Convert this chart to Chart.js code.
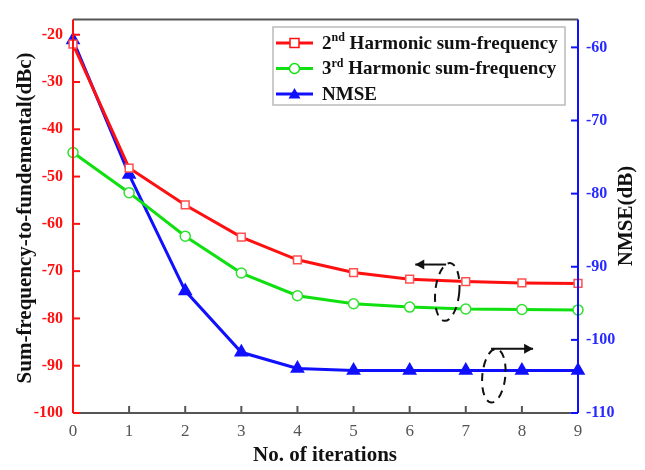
<!DOCTYPE html>
<html>
<head>
<meta charset="utf-8">
<script src="https://cdn.jsdelivr.net/npm/chart.js@4.4.1/dist/chart.umd.min.js"></script>
<style>
    html, body { margin: 0; padding: 0; background: #fff; }
    #wrap { width: 645px; height: 470px; }
</style>
</head>
<body>
<div id="wrap"><canvas id="chart" width="645" height="470"></canvas></div>
<script>
// Data
const iterations = ['0', '1', '2', '3', '4', '5', '6', '7', '8', '9'];
const harmonic2nd = [-22.0, -48.2, -56.0, -62.8, -67.6, -70.3, -71.7, -72.2, -72.5, -72.6];
const harmonic3rd = [-44.9, -53.4, -62.6, -70.4, -75.2, -76.9, -77.6, -78.0, -78.1, -78.2];
const nmseValues = [-59.0, -77.4, -93.3, -101.7, -103.9, -104.2, -104.2, -104.2, -104.2, -104.2];

const leftTickValues = [-100, -90, -80, -70, -60, -50, -40, -30, -20];
const rightTickValues = [-110, -100, -90, -80, -70, -60];

const legendItems = [
    { base: '2', sup: 'nd', rest: ' Harmonic sum-frequency', color: '#ff1010', marker: 'rect' },
    { base: '3', sup: 'rd', rest: ' Harmonic sum-frequency', color: '#10e010', marker: 'circle' },
    { base: 'NMSE', sup: '', rest: '', color: '#1010ff', marker: 'triangle' }
];

const serif = '"Liberation Serif", "Times New Roman", serif';
const RED = '#ff1010';
const GREEN = '#10e010';
const BLUE = '#1010ff';
const FRAME = '#555555';

// Frame, inward ticks and axis titles
const framePlugin = {
    id: 'frame',
    afterDatasetsDraw(chart) {
        const { ctx, chartArea: a, scales } = chart;
        ctx.save();
        ctx.lineWidth = 2;
        // top and bottom
        ctx.strokeStyle = FRAME;
        ctx.beginPath();
        ctx.moveTo(a.left, a.top); ctx.lineTo(a.right, a.top);
        ctx.moveTo(a.left, a.bottom); ctx.lineTo(a.right, a.bottom);
        ctx.stroke();
        // bottom ticks
        iterations.forEach((_, i) => {
            const x = scales.x.getPixelForValue(i);
            ctx.beginPath();
            ctx.moveTo(x, a.bottom); ctx.lineTo(x, a.bottom - 7);
            ctx.stroke();
        });
        // left axis
        ctx.strokeStyle = RED;
        ctx.beginPath();
        ctx.moveTo(a.left, a.top); ctx.lineTo(a.left, a.bottom);
        ctx.stroke();
        leftTickValues.forEach((v) => {
            const y = scales.y.getPixelForValue(v);
            ctx.beginPath();
            ctx.moveTo(a.left, y); ctx.lineTo(a.left + 7, y);
            ctx.stroke();
        });
        // right axis
        ctx.strokeStyle = BLUE;
        ctx.beginPath();
        ctx.moveTo(a.right, a.top); ctx.lineTo(a.right, a.bottom);
        ctx.stroke();
        rightTickValues.forEach((v) => {
            const y = scales.y1.getPixelForValue(v);
            ctx.beginPath();
            ctx.moveTo(a.right, y); ctx.lineTo(a.right - 7, y);
            ctx.stroke();
        });

        // axis titles
        ctx.fillStyle = '#111';
        ctx.font = `bold 21px ${serif}`;
        ctx.textAlign = 'center';
        ctx.textBaseline = 'middle';
        ctx.save();
        ctx.translate(26, 218);
        ctx.rotate(-Math.PI / 2);
        ctx.fillText('Sum-frequency-to-fundemental(dBc)', 0, 0);
        ctx.restore();
        ctx.save();
        ctx.translate(627, 216);
        ctx.rotate(-Math.PI / 2);
        ctx.fillText('NMSE(dB)', 0, 0);
        ctx.restore();
        ctx.fillText('No. of iterations', 325, 456);
        ctx.restore();
    }
};

// Dashed ellipses with arrows marking which axis each group belongs to
const annotationPlugin = {
    id: 'axisHints',
    afterDatasetsDraw(chart) {
        const { ctx, scales } = chart;
        const x = scales.x, yL = scales.y, yR = scales.y1;
        const arrow = (x1, x2, y) => {
            ctx.setLineDash([]);
            ctx.beginPath();
            ctx.moveTo(x1, y); ctx.lineTo(x2, y);
            ctx.stroke();
            const d = Math.sign(x2 - x1);
            ctx.beginPath();
            ctx.moveTo(x2, y);
            ctx.lineTo(x2 - d * 9, y - 5);
            ctx.lineTo(x2 - d * 9, y + 5);
            ctx.closePath();
            ctx.fill();
        };
        ctx.save();
        ctx.strokeStyle = '#111';
        ctx.fillStyle = '#111';
        ctx.lineWidth = 2;

        ctx.setLineDash([8, 6]);
        ctx.beginPath();
        ctx.ellipse(x.getPixelForValue(6.67), yL.getPixelForValue(-74.4), 12, 29, 0.1, 0, Math.PI * 2);
        ctx.stroke();
        arrow(x.getPixelForValue(6.65), x.getPixelForValue(6.1), yL.getPixelForValue(-68.6));

        ctx.setLineDash([8, 6]);
        ctx.beginPath();
        ctx.ellipse(x.getPixelForValue(7.5), yR.getPixelForValue(-104.9), 11.5, 27, 0.1, 0, Math.PI * 2);
        ctx.stroke();
        arrow(x.getPixelForValue(7.45), x.getPixelForValue(8.2), yR.getPixelForValue(-101.2));
        ctx.restore();
    }
};

// Legend with superscripts
const legendPlugin = {
    id: 'customLegend',
    afterDraw(chart) {
        const { ctx } = chart;
        const box = { left: 273, top: 27, width: 292, height: 78 };
        ctx.save();
        ctx.fillStyle = '#fff';
        ctx.fillRect(box.left, box.top, box.width, box.height);
        ctx.strokeStyle = '#bbbbbb';
        ctx.lineWidth = 1.5;
        ctx.strokeRect(box.left, box.top, box.width, box.height);

        legendItems.forEach((item, i) => {
            const y = 43 + i * 25.5;
            ctx.strokeStyle = item.color;
            ctx.lineWidth = 3;
            ctx.beginPath();
            ctx.moveTo(276, y); ctx.lineTo(313, y);
            ctx.stroke();
            ctx.lineWidth = 1.5;
            if (item.marker === 'rect') {
                ctx.fillStyle = '#fff';
                ctx.fillRect(290, y - 4.5, 9, 9);
                ctx.strokeRect(290, y - 4.5, 9, 9);
            } else if (item.marker === 'circle') {
                ctx.fillStyle = '#fff';
                ctx.beginPath();
                ctx.arc(294.5, y, 5, 0, Math.PI * 2);
                ctx.fill();
                ctx.stroke();
            } else {
                ctx.fillStyle = item.color;
                ctx.beginPath();
                ctx.moveTo(294.5, y - 6);
                ctx.lineTo(300.5, y + 4.5);
                ctx.lineTo(288.5, y + 4.5);
                ctx.closePath();
                ctx.fill();
            }

            ctx.fillStyle = '#111';
            ctx.textBaseline = 'middle';
            ctx.textAlign = 'left';
            let tx = 322;
            ctx.font = `bold 19px ${serif}`;
            ctx.fillText(item.base, tx, y + 1);
            tx += ctx.measureText(item.base).width;
            if (item.sup) {
                ctx.font = `bold 12px ${serif}`;
                ctx.fillText(item.sup, tx, y - 5);
                tx += ctx.measureText(item.sup).width;
            }
            ctx.font = `bold 19px ${serif}`;
            ctx.fillText(item.rest, tx, y + 1);
        });
        ctx.restore();
    }
};

new Chart(document.getElementById('chart'), {
    type: 'line',
    data: {
        labels: iterations,
        datasets: [
            {
                label: '2nd Harmonic sum-frequency',
                data: harmonic2nd,
                yAxisID: 'y',
                borderColor: RED,
                borderWidth: 3,
                pointStyle: 'rect',
                pointRadius: 5.5,
                pointBorderWidth: 1.5,
                pointBackgroundColor: '#fff',
                pointBorderColor: '#ff5050',
                clip: false,
                tension: 0
            },
            {
                label: '3rd Harmonic sum-frequency',
                data: harmonic3rd,
                yAxisID: 'y',
                borderColor: GREEN,
                borderWidth: 3,
                pointStyle: 'circle',
                pointRadius: 5,
                pointBorderWidth: 1.5,
                pointBackgroundColor: '#fff',
                pointBorderColor: '#30e030',
                clip: false,
                tension: 0
            },
            {
                label: 'NMSE',
                data: nmseValues,
                yAxisID: 'y1',
                borderColor: BLUE,
                borderWidth: 3,
                pointStyle: 'triangle',
                pointRadius: 5.5,
                pointBackgroundColor: BLUE,
                pointBorderColor: BLUE,
                clip: false,
                tension: 0
            }
        ]
    },
    options: {
        responsive: false,
        animation: false,
        devicePixelRatio: 1,
        layout: { padding: { top: 16, left: 0, right: 0, bottom: 0 } },
        plugins: {
            legend: { display: false },
            tooltip: { enabled: false }
        },
        scales: {
            x: {
                type: 'category',
                offset: false,
                grid: { display: false, drawTicks: false },
                border: { display: false },
                ticks: {
                    padding: 8,
                    color: '#555',
                    font: { family: serif, size: 17 },
                    maxRotation: 0
                },
                afterFit: (s) => { s.height = 57; }
            },
            y: {
                position: 'left',
                min: -100,
                max: -16.8,
                grid: { display: false, drawTicks: false },
                border: { display: false },
                ticks: {
                    stepSize: 10,
                    includeBounds: false,
                    padding: 10,
                    color: RED,
                    font: { family: serif, size: 16, weight: 'bold' }
                },
                afterFit: (s) => { s.width = 73; }
            },
            y1: {
                position: 'right',
                min: -110,
                max: -56.2,
                grid: { display: false, drawTicks: false },
                border: { display: false },
                ticks: {
                    stepSize: 10,
                    includeBounds: false,
                    padding: 8,
                    color: '#2a2aff',
                    font: { family: serif, size: 16, weight: 'bold' }
                },
                afterFit: (s) => { s.width = 67; }
            }
        }
    },
    plugins: [framePlugin, annotationPlugin, legendPlugin]
});
</script>
</body>
</html>
